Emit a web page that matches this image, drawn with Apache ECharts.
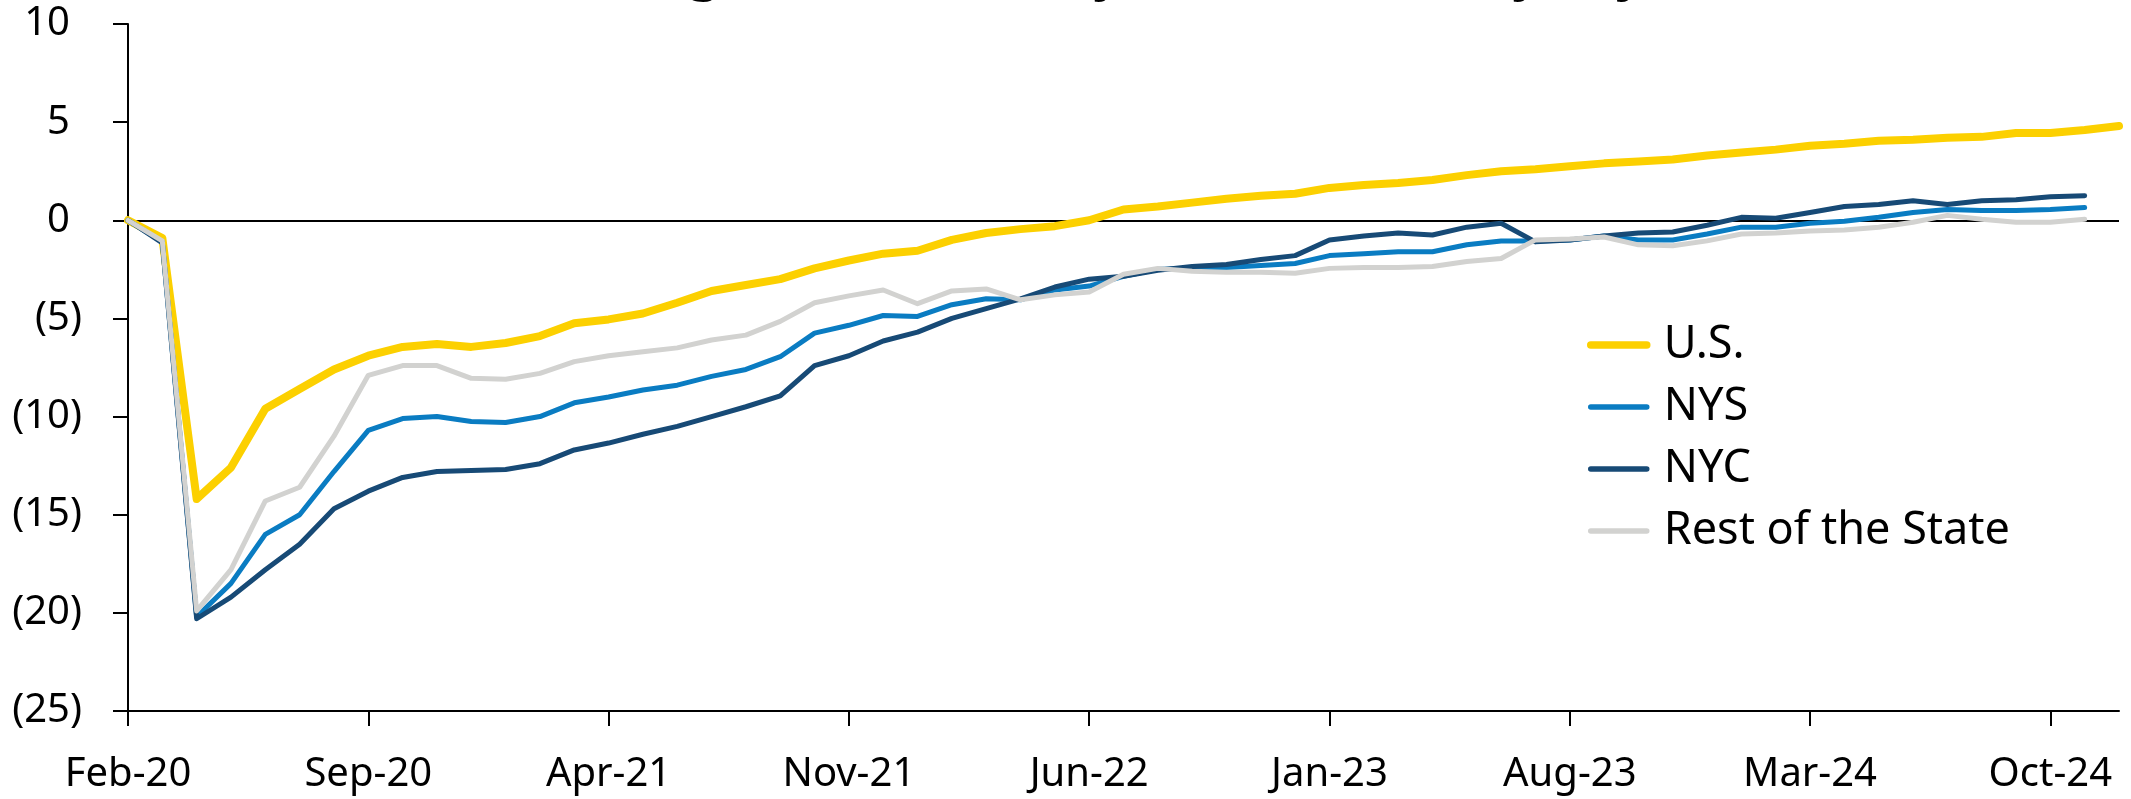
<!DOCTYPE html>
<html>
<head>
<meta charset="utf-8">
<script src="https://cdn.jsdelivr.net/npm/echarts@6/dist/echarts.min.js"></script>
<style>
  html, body { margin: 0; padding: 0; background: #fff; }
  #chart { width: 2131px; height: 799px; }
</style>
</head>
<body>
<div id="chart"></div>
<script>
  // months Feb-20 .. Dec-24
  const months = [
    'Feb-20', 'Mar-20', 'Apr-20', 'May-20', 'Jun-20', 'Jul-20', 'Aug-20', 'Sep-20', 'Oct-20', 'Nov-20', 'Dec-20',
    'Jan-21', 'Feb-21', 'Mar-21', 'Apr-21', 'May-21', 'Jun-21', 'Jul-21', 'Aug-21', 'Sep-21', 'Oct-21', 'Nov-21', 'Dec-21',
    'Jan-22', 'Feb-22', 'Mar-22', 'Apr-22', 'May-22', 'Jun-22', 'Jul-22', 'Aug-22', 'Sep-22', 'Oct-22', 'Nov-22', 'Dec-22',
    'Jan-23', 'Feb-23', 'Mar-23', 'Apr-23', 'May-23', 'Jun-23', 'Jul-23', 'Aug-23', 'Sep-23', 'Oct-23', 'Nov-23', 'Dec-23',
    'Jan-24', 'Feb-24', 'Mar-24', 'Apr-24', 'May-24', 'Jun-24', 'Jul-24', 'Aug-24', 'Sep-24', 'Oct-24', 'Nov-24', 'Dec-24'
  ]

  const usValues = [
    0, -0.9, -14.2, -12.6, -9.6, -8.6, -7.6, -6.9, -6.45, -6.3, -6.45,
    -6.25, -5.9, -5.25, -5.05, -4.75, -4.2, -3.6, -3.3, -3.0, -2.45, -2.05, -1.7,
    -1.55, -1.0, -0.65, -0.45, -0.3, 0.0, 0.55, 0.7, 0.9, 1.1, 1.25, 1.35,
    1.65, 1.8, 1.9, 2.05, 2.3, 2.5, 2.6, 2.75, 2.9, 3.0, 3.1, 3.3,
    3.45, 3.6, 3.8, 3.9, 4.05, 4.1, 4.2, 4.25, 4.45, 4.45, 4.6, 4.8
  ]

  const nysValues = [
    0, -1.1, -20.2, -18.5, -16.0, -15.0, -12.8, -10.7, -10.1, -10.0, -10.25,
    -10.3, -10.0, -9.3, -9.0, -8.65, -8.4, -7.95, -7.6, -6.95, -5.75, -5.35, -4.85,
    -4.9, -4.3, -4.0, -4.05, -3.55, -3.35, -2.85, -2.5, -2.45, -2.4, -2.3, -2.2,
    -1.8, -1.7, -1.6, -1.6, -1.25, -1.05, -1.05, -1.0, -0.8, -1.0, -1.0, -0.7,
    -0.35, -0.35, -0.15, -0.05, 0.15, 0.4, 0.55, 0.5, 0.5, 0.55, 0.65
  ]

  const nycValues = [
    0, -1.15, -20.3, -19.2, -17.8, -16.5, -14.7, -13.8, -13.1, -12.8, -12.75,
    -12.7, -12.4, -11.7, -11.35, -10.9, -10.5, -10.0, -9.5, -8.95, -7.4, -6.9, -6.15,
    -5.7, -5.0, -4.5, -4.0, -3.4, -3.0, -2.85, -2.55, -2.35, -2.25, -2.0, -1.8,
    -1.0, -0.8, -0.65, -0.75, -0.35, -0.15, -1.1, -1.0, -0.8, -0.65, -0.6, -0.25,
    0.15, 0.1, 0.4, 0.7, 0.8, 1.0, 0.8, 1.0, 1.05, 1.2, 1.25
  ]

  const restValues = [
    0, -1.05, -19.9, -17.8, -14.3, -13.6, -11.0, -7.9, -7.4, -7.4, -8.05,
    -8.1, -7.8, -7.2, -6.9, -6.7, -6.5, -6.1, -5.85, -5.15, -4.2, -3.85, -3.55,
    -4.25, -3.6, -3.5, -4.05, -3.8, -3.65, -2.75, -2.45, -2.6, -2.65, -2.65, -2.7,
    -2.45, -2.4, -2.4, -2.35, -2.1, -1.95, -1.0, -0.95, -0.85, -1.25, -1.3, -1.05,
    -0.7, -0.65, -0.55, -0.5, -0.35, -0.1, 0.25, 0.05, -0.1, -0.1, 0.05
  ]

  const titleText = '(Percent Change from February 2020, Seasonally Adjusted)'
  const font = '"Noto Sans", sans-serif'

  const chart = echarts.init(document.getElementById('chart'))

  const lineSeries = (name, data, color, width) => ({
    name,
    type: 'line',
    data,
    symbol: 'none',
    lineStyle: { color, width, cap: 'round', join: 'round' },
    itemStyle: { color }
  })

  const usSeries = lineSeries('U.S.', usValues, '#FCD000', 8)
  usSeries.markLine = {
    silent: true,
    z: 1,
    symbol: ['none', 'none'],
    label: { show: false },
    lineStyle: { color: '#000', width: 2, type: 'solid' },
    data: [{ yAxis: 0 }]
  }

  const option = {
    backgroundColor: '#fff',
    animation: false,
    textStyle: { fontFamily: font },
    grid: { left: 128, right: 12, top: 24, bottom: 88 },
    graphic: [
      {
        type: 'text',
        x: 1066,
        y: -24,
        style: {
          text: titleText,
          fontSize: 50,
          fontWeight: 'bold',
          fontFamily: font,
          fill: '#000',
          align: 'center',
          verticalAlign: 'middle'
        }
      }
    ],
    legend: {
      orient: 'vertical',
      left: 1582,
      top: 315,
      itemWidth: 56,
      itemHeight: 14,
      itemGap: 12,
      itemStyle: { opacity: 0 },
      textStyle: {
        fontSize: 45,
        color: '#000',
        lineHeight: 50,
        fontFamily: font,
        padding: [0, 0, 0, 12]
      },
      data: [
        { name: 'U.S.', lineStyle: { width: 7.5, cap: 'round' } },
        { name: 'NYS', lineStyle: { width: 5.5, cap: 'round' } },
        { name: 'NYC', lineStyle: { width: 5.5, cap: 'round' } },
        { name: 'Rest of the State', lineStyle: { width: 5.5, cap: 'round' } }
      ]
    },
    xAxis: {
      type: 'category',
      data: months,
      boundaryGap: false,
      axisLine: { onZero: false, lineStyle: { color: '#000', width: 2 } },
      axisTick: { interval: 6, length: 15, lineStyle: { color: '#000', width: 2 } },
      axisLabel: { interval: 6, fontSize: 40, color: '#000', margin: 44, fontFamily: font },
      splitLine: { show: false }
    },
    yAxis: {
      type: 'value',
      min: -25,
      max: 10,
      interval: 5,
      axisLine: { show: true, lineStyle: { color: '#000', width: 2 } },
      axisTick: { show: true, length: 15, lineStyle: { color: '#000', width: 2 } },
      splitLine: { show: false },
      axisLabel: {
        fontSize: 40,
        color: '#000',
        margin: 46,
        fontFamily: font,
        formatter: (v) => (v < 0 ? '(' + -v + ')' : '{pos|' + v + '}'),
        rich: {
          pos: { fontSize: 40, color: '#000', fontFamily: font, padding: [0, 12, 0, 0] }
        }
      }
    },
    series: [
      usSeries,
      lineSeries('NYS', nysValues, '#0A7CC2', 5),
      lineSeries('NYC', nycValues, '#174A76', 5),
      lineSeries('Rest of the State', restValues, '#D2D2D0', 5)
    ]
  }

  chart.setOption(option)
</script>
</body>
</html>
